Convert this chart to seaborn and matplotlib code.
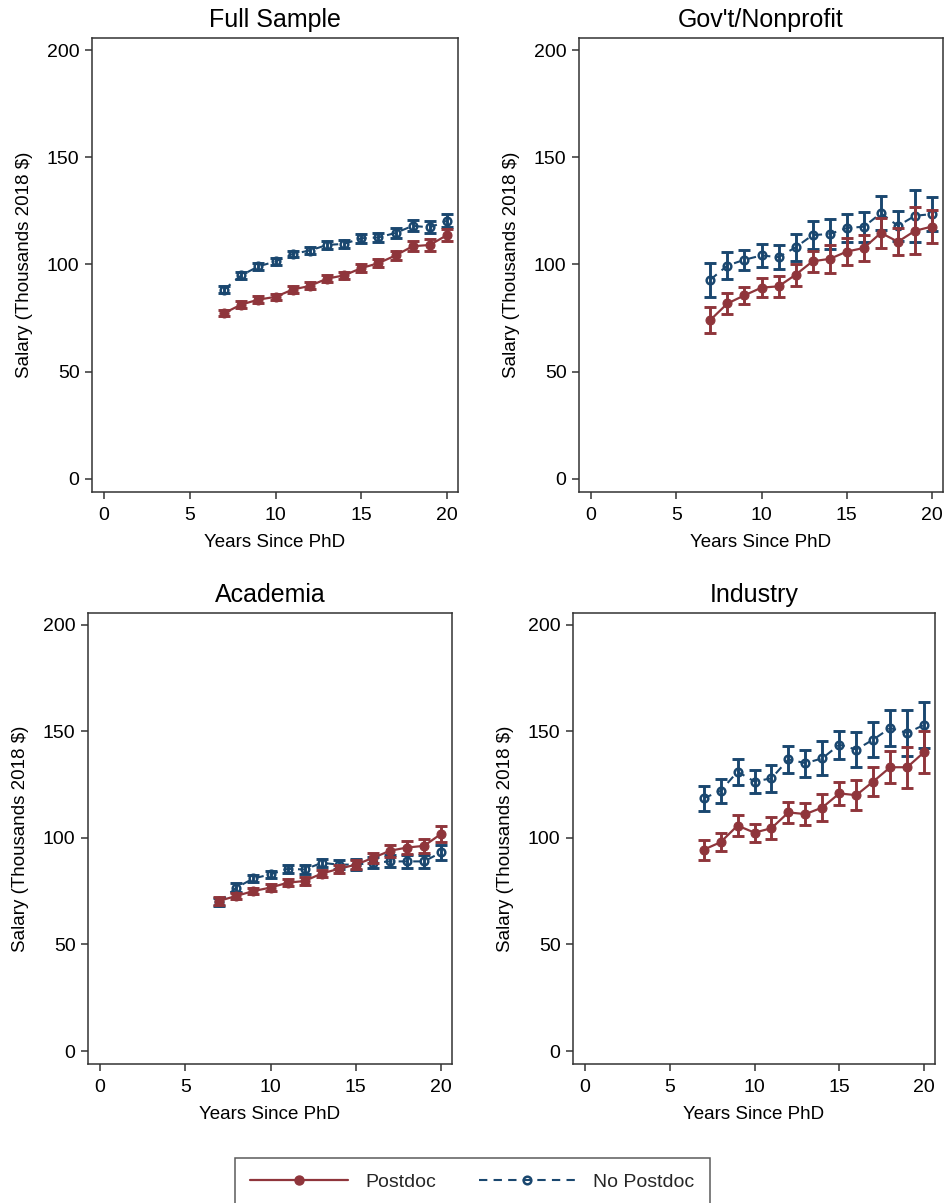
import matplotlib
matplotlib.use("Agg")
import matplotlib.pyplot as plt
from matplotlib.lines import Line2D
import seaborn as sns
import numpy as np
import pandas as pd

# ---------------- data ----------------
years = [7, 8, 9, 10, 11, 12, 13, 14, 15, 16, 17, 18, 19, 20]
panel_titles = ["Full Sample", "Gov't/Nonprofit", "Academia", "Industry"]
series_names = ["Postdoc", "No Postdoc"]

full_post = [77.3, 81.3, 83.6, 84.9, 88.3, 90.0, 93.4, 94.9, 98.3, 100.6, 104.2, 108.5, 109.1, 113.7]
full_post_err = [1.5, 1.5, 1.5, 1.5, 1.5, 1.6, 1.7, 1.8, 1.9, 2.0, 2.2, 2.4, 2.6, 2.8]
full_nopost = [88.3, 94.9, 99.1, 101.4, 104.9, 106.5, 109.1, 109.6, 112.2, 112.6, 114.7, 118.0, 117.3, 120.4]
full_nopost_err = [1.5, 1.5, 1.5, 1.6, 1.6, 1.7, 1.8, 1.9, 2.0, 2.2, 2.4, 2.6, 2.8, 3.0]

gov_post = [74.1, 81.8, 85.6, 89.2, 89.8, 95.2, 101.5, 102.6, 106.0, 107.7, 114.7, 110.6, 115.7, 117.7]
gov_post_err = [6.2, 5.0, 4.0, 4.6, 4.8, 5.2, 5.0, 6.4, 6.2, 6.2, 7.0, 6.2, 11.0, 7.5]
gov_nopost = [92.9, 99.5, 102.2, 104.2, 103.4, 108.0, 113.7, 114.2, 117.0, 117.6, 123.9, 118.0, 122.7, 123.5]
gov_nopost_err = [8.0, 6.2, 4.7, 5.5, 5.7, 6.2, 6.5, 7.2, 6.3, 6.9, 8.0, 7.0, 12.0, 8.1]

acad_post = [70.5, 72.8, 75.1, 76.7, 79.0, 79.8, 83.3, 85.5, 87.5, 90.6, 94.0, 95.5, 96.3, 101.9]
acad_post_err = [1.8, 1.6, 1.5, 1.5, 1.6, 1.7, 1.8, 2.0, 2.2, 2.5, 2.8, 3.0, 3.2, 3.6]
acad_nopost = [70.0, 76.7, 81.0, 82.9, 85.5, 85.2, 88.3, 87.5, 87.5, 88.3, 89.0, 89.0, 89.0, 93.2]
acad_nopost_err = [1.8, 2.0, 1.6, 1.7, 1.8, 1.9, 2.0, 2.2, 2.4, 2.6, 2.8, 3.0, 3.2, 3.4]

ind_post = [94.5, 98.0, 105.8, 102.5, 104.6, 112.0, 111.2, 114.3, 120.9, 120.1, 126.5, 133.2, 133.2, 140.3]
ind_post_err = [4.7, 4.2, 5.0, 4.2, 5.2, 5.0, 5.2, 6.5, 5.4, 7.0, 6.8, 7.5, 9.6, 10.0]
ind_nopost = [118.6, 122.1, 131.1, 126.5, 128.0, 136.9, 135.1, 137.4, 143.8, 141.5, 146.2, 151.6, 149.3, 153.1]
ind_nopost_err = [6.0, 5.5, 6.2, 5.4, 6.3, 6.5, 6.4, 8.0, 6.6, 8.2, 8.3, 8.3, 10.9, 10.8]

x_ticks = [0, 5, 10, 15, 20]
y_ticks = [0, 50, 100, 150, 200]

panels = [
    (full_post, full_post_err, full_nopost, full_nopost_err),
    (gov_post, gov_post_err, gov_nopost, gov_nopost_err),
    (acad_post, acad_post_err, acad_nopost, acad_nopost_err),
    (ind_post, ind_post_err, ind_nopost, ind_nopost_err),
]

# ---------------- style ----------------
sns.set_theme(style="white")
plt.rcParams["font.family"] = ["Liberation Sans", "DejaVu Sans"]

RED = "#8F353B"
BLUE = "#1A476F"
SPINE = "#333333"

W, H = 945, 1203
fig = plt.figure(figsize=(W / 100, H / 100), dpi=100)

# axes boxes in pixels: left, top, right, bottom
boxes = [
    (92, 38, 458, 492),
    (579, 38, 943, 492),
    (88, 613, 452, 1064),
    (573, 613, 935, 1064),
]

for (title, data, box) in zip(panel_titles, panels, boxes):
    l, t, r, b = box
    ax = fig.add_axes([l / W, 1 - b / H, (r - l) / W, (b - t) / H])
    post, post_err, nopost, nopost_err = data
    df = pd.DataFrame({
        "Years Since PhD": years * 2,
        "Salary": post + nopost,
        "err": post_err + nopost_err,
        "Group": [series_names[0]] * len(years) + [series_names[1]] * len(years),
    })
    d_no = df[df["Group"] == "No Postdoc"]
    d_po = df[df["Group"] == "Postdoc"]

    # No Postdoc (drawn first)
    ax.errorbar(d_no["Years Since PhD"], d_no["Salary"], yerr=d_no["err"], fmt="none",
                ecolor=BLUE, elinewidth=2.1, capsize=4, capthick=2.1, zorder=2)
    sns.lineplot(data=d_no, x="Years Since PhD", y="Salary", ax=ax, color=BLUE,
                 linestyle=(0, (4, 3)), linewidth=1.5, marker="o", markersize=5.5,
                 markerfacecolor="none", markeredgecolor=BLUE, markeredgewidth=1.8,
                 zorder=3, legend=False)
    # Postdoc
    ax.errorbar(d_po["Years Since PhD"], d_po["Salary"], yerr=d_po["err"], fmt="none",
                ecolor=RED, elinewidth=2.1, capsize=4, capthick=2.1, zorder=4)
    sns.lineplot(data=d_po, x="Years Since PhD", y="Salary", ax=ax, color=RED,
                 linewidth=1.6, marker="o", markersize=6.5, markerfacecolor=RED,
                 markeredgecolor=RED, zorder=5, legend=False)

    ax.set_xlim(-0.7, 20.64)
    ax.set_ylim(-6.1, 205.6)
    ax.set_xticks(x_ticks)
    ax.set_yticks(y_ticks)
    ax.tick_params(axis="both", which="major", length=5, width=1.1, color=SPINE,
                   labelsize=14, labelcolor="black", pad=4, direction="out",
                   bottom=True, left=True)
    ax.tick_params(axis="x", pad=6)
    for s in ax.spines.values():
        s.set_color(SPINE)
        s.set_linewidth(1.1)
    ax.set_xlabel("Years Since PhD", fontsize=13.5, labelpad=7, color="black")
    ax.set_ylabel("Salary (Thousands 2018 $)", fontsize=13.5, labelpad=10, color="black")
    ax.set_title(title, fontsize=18, pad=8, color="black")
    ax.grid(False)

# legend
h_post = Line2D([], [], color=RED, linewidth=1.6, marker="o", markersize=6.5,
                markerfacecolor=RED, markeredgecolor=RED)
h_no = Line2D([], [], color=BLUE, linewidth=1.5, linestyle=(0, (4, 3)), marker="o",
              markersize=5.5, markerfacecolor="none", markeredgecolor=BLUE,
              markeredgewidth=1.8)
leg = fig.legend([h_post, h_no], series_names, loc="upper center",
                 bbox_to_anchor=(0.5, 1 - 1158 / H), ncol=2, fontsize=14,
                 frameon=True, fancybox=False, edgecolor=SPINE, handlelength=5,
                 handletextpad=0.9, columnspacing=2.2, borderpad=0.8,
                 borderaxespad=0, markerscale=1.0)
leg.get_frame().set_linewidth(1.1)

fig.savefig("out.png", dpi=100, facecolor="white")
